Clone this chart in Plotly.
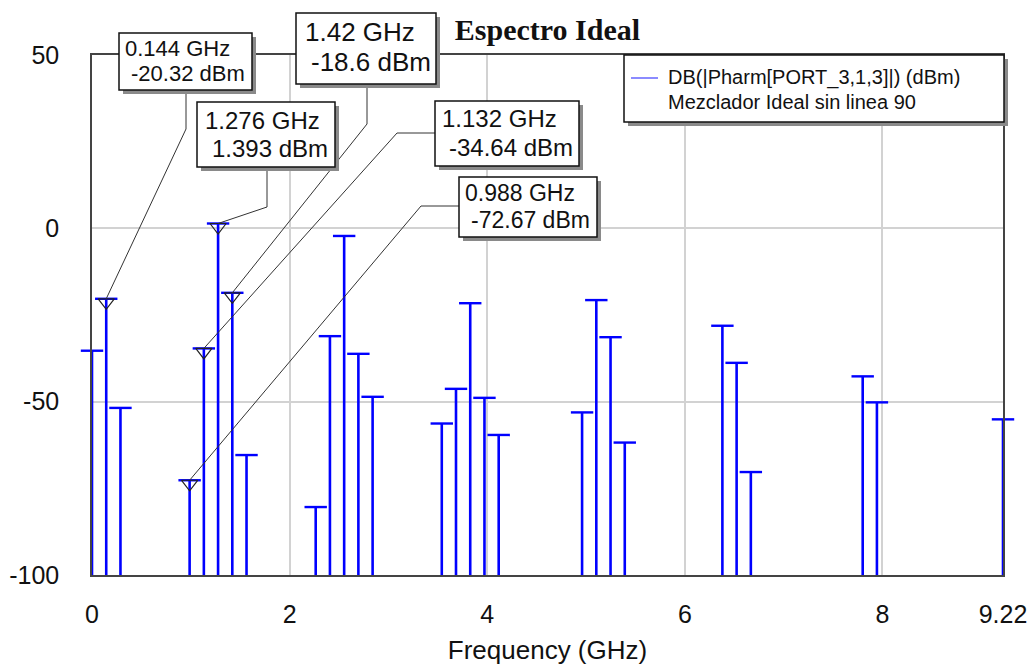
import plotly.graph_objects as go

# ---------------- data ----------------
freq_ghz = [0.0, 0.144, 0.288,
            0.988, 1.132, 1.276, 1.42, 1.564,
            2.264, 2.408, 2.552, 2.696, 2.84,
            3.54, 3.684, 3.828, 3.972, 4.116,
            4.96, 5.104, 5.248, 5.392,
            6.38, 6.524, 6.668,
            7.8, 7.944,
            9.22]
power_dbm = [-35.3, -20.32, -51.8,
             -72.67, -34.64, 1.393, -18.6, -65.4,
             -80.4, -31.1, -2.2, -36.2, -48.6,
             -56.3, -46.3, -21.6, -48.9, -59.6,
             -53.1, -20.7, -31.4, -61.8,
             -28.1, -38.8, -70.3,
             -42.7, -50.2,
             -55.1]

marker_freq = [0.144, 1.42, 1.276, 1.132, 0.988]
marker_dbm = [-20.32, -18.6, 1.393, -34.64, -72.67]

x_tick_vals = [0, 2, 4, 6, 8, 9.22]
x_tick_text = ["0", "2", "4", "6", "8", "9.22"]
y_tick_vals = [-100, -50, 0, 50]
y_tick_text = ["-100", "-50", "0", "50"]
x_range = [0, 9.22]
y_range = [-100, 50]

title_text = "Espectro Ideal"
x_title = "Frequency (GHz)"
legend_line1 = "DB(|Pharm[PORT_3,1,3]|) (dBm)"
legend_line2 = "Mezclador Ideal sin linea 90"

# ---------------- layout geometry (pixels) ----------------
W, H = 1032, 666
L, R, T, B = 92, 1003, 55, 575
PW, PH = R - L, B - T

def pxx(p):
    return (p - L) / PW

def pxy(p):
    return (B - p) / PH

def dx(p):
    return (p - L) / PW * (x_range[1] - x_range[0]) + x_range[0]

def dy(p):
    return y_range[1] - (p - T) / PH * (y_range[1] - y_range[0])

# callout boxes: left, top, right, bottom, font, l1x, l1y, l2x, l2y
callout_geom = [
    (119, 33, 252, 90, 22, 123, 48, 129, 73),
    (296, 13, 436, 84, 26, 303, 32, 309, 62),
    (197, 102, 335, 167, 24, 203, 120, 210, 148),
    (435, 101, 579, 166, 24, 440, 118, 447, 147),
    (459, 177, 597, 237, 23, 463, 193, 469, 220),
]
leader_knees = [
    [(186, 90), (186, 129)],
    [(367, 84), (367, 124)],
    [(267, 167), (267, 207)],
    [(435, 133), (397, 133)],
    [(459, 206), (421, 206)],
]

FONT = "Liberation Sans, Arial, sans-serif"
BLUE = "#0000ff"

fig = go.Figure()

# stems
sx, sy = [], []
for f, v in zip(freq_ghz, power_dbm):
    sx += [f, f, None]
    sy += [y_range[0], v, None]
fig.add_trace(go.Scatter(x=sx, y=sy, mode="lines",
                         line=dict(color=BLUE, width=2.6),
                         hoverinfo="skip", showlegend=False))
# caps
fig.add_trace(go.Scatter(x=freq_ghz, y=power_dbm, mode="markers",
                         marker=dict(symbol="line-ew", size=16,
                                     line=dict(color=BLUE, width=2.4)),
                         showlegend=False, cliponaxis=False))
# marker triangles (top edge at the value)
tri_size = 14
shift = (tri_size / 4) * (y_range[1] - y_range[0]) / PH
fig.add_trace(go.Scatter(x=marker_freq, y=[v - shift for v in marker_dbm],
                         mode="markers",
                         marker=dict(symbol="triangle-down-open", size=tri_size,
                                     color="#222222",
                                     line=dict(color="#222222", width=1.2)),
                         showlegend=False, cliponaxis=False))

shapes = []
annotations = []

# leader lines (behind boxes)
for knees, f, v in zip(leader_knees, marker_freq, marker_dbm):
    (ax, ay), (bx, by) = knees
    path = f"M {dx(ax)},{dy(ay)} L {dx(bx)},{dy(by)} L {f},{v}"
    shapes.append(dict(type="path", xref="x", yref="y", path=path,
                       line=dict(color="#333333", width=1), layer="above"))

# callout boxes
for g, f, v in zip(callout_geom, marker_freq, marker_dbm):
    bl, bt, br, bb, fs, l1x, l1y, l2x, l2y = g
    shapes.append(dict(type="rect", xref="paper", yref="paper",
                       x0=pxx(bl + 4), x1=pxx(br + 4), y0=pxy(bb + 4), y1=pxy(bt + 4),
                       fillcolor="#8a8a8a", line=dict(width=0), layer="above"))
    shapes.append(dict(type="rect", xref="paper", yref="paper",
                       x0=pxx(bl), x1=pxx(br), y0=pxy(bb), y1=pxy(bt),
                       fillcolor="white", line=dict(color="#111111", width=1.5),
                       layer="above"))
    annotations.append(dict(xref="paper", yref="paper", x=pxx(l1x), y=pxy(l1y),
                            xanchor="left", yanchor="middle", showarrow=False,
                            text=f"{f} GHz", font=dict(family=FONT, size=fs, color="#111111")))
    annotations.append(dict(xref="paper", yref="paper", x=pxx(l2x), y=pxy(l2y),
                            xanchor="left", yanchor="middle", showarrow=False,
                            text=f"{v} dBm", font=dict(family=FONT, size=fs, color="#111111")))

# legend box
lg = (624, 55, 1004, 122)
shapes.append(dict(type="rect", xref="paper", yref="paper",
                   x0=pxx(lg[0] + 4), x1=pxx(lg[2] + 4), y0=pxy(lg[3] + 4), y1=pxy(lg[1] + 4),
                   fillcolor="#8a8a8a", line=dict(width=0), layer="above"))
shapes.append(dict(type="rect", xref="paper", yref="paper",
                   x0=pxx(lg[0]), x1=pxx(lg[2]), y0=pxy(lg[3]), y1=pxy(lg[1]),
                   fillcolor="white", line=dict(color="#111111", width=1.5), layer="above"))
shapes.append(dict(type="line", xref="paper", yref="paper",
                   x0=pxx(631), x1=pxx(658), y0=pxy(78), y1=pxy(78),
                   line=dict(color="#6464ff", width=1.5), layer="above"))
annotations.append(dict(xref="paper", yref="paper", x=pxx(666), y=pxy(78),
                        xanchor="left", yanchor="middle", showarrow=False,
                        text=legend_line1, font=dict(family=FONT, size=20, color="#111111")))
annotations.append(dict(xref="paper", yref="paper", x=pxx(666), y=pxy(102),
                        xanchor="left", yanchor="middle", showarrow=False,
                        text=legend_line2, font=dict(family=FONT, size=20, color="#111111")))

fig.update_layout(
    width=W, height=H,
    margin=dict(l=L, r=W - R, t=T, b=H - B, autoexpand=False),
    paper_bgcolor="white", plot_bgcolor="white",
    showlegend=False,
    title=dict(text=title_text, x=0.5, xref="paper", xanchor="center",
               y=1 - 29 / H, yref="container", yanchor="middle",
               font=dict(family="Liberation Serif, Times New Roman, serif",
                         size=30, color="#111111", weight="bold")),
    shapes=shapes,
    annotations=annotations,
    xaxis=dict(range=x_range, tickvals=x_tick_vals, ticktext=x_tick_text,
               showgrid=True, gridcolor="#d2d2d2", gridwidth=1.5,
               zeroline=False, showline=True, linecolor="#444444", linewidth=1.5,
               mirror=True, ticks="", ticklabelstandoff=16,
               tickfont=dict(family=FONT, size=25, color="#111111"),
               title=dict(text=x_title, standoff=14,
                          font=dict(family=FONT, size=26, color="#111111"))),
    yaxis=dict(range=y_range, tickvals=y_tick_vals, ticktext=y_tick_text,
               showgrid=True, gridcolor="#d2d2d2", gridwidth=1.5,
               zeroline=False, showline=True, linecolor="#444444", linewidth=1.5,
               mirror=True, ticks="", ticklabelstandoff=26,
               tickfont=dict(family=FONT, size=25, color="#111111")),
)

fig.write_html("out.html",
               config={"displayModeBar": False},
               post_script="document.body.style.margin='0';document.body.style.overflow='hidden';")
